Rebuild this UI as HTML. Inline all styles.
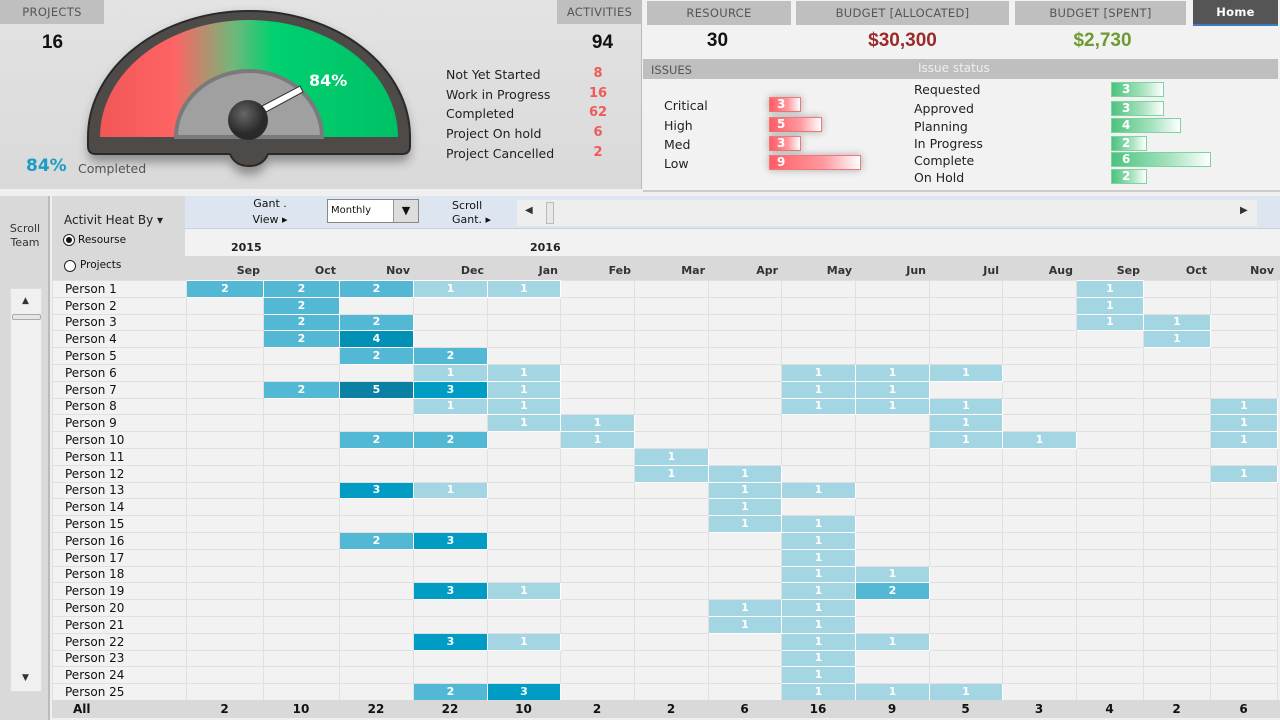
<!DOCTYPE html>
<html><head><meta charset="utf-8">
<style>
*{box-sizing:border-box;margin:0;padding:0}
body{width:1280px;height:720px;overflow:hidden;background:#f0f0f0;font-family:"DejaVu Sans","Liberation Sans",sans-serif;position:relative;color:#111}
.ab{position:absolute}
.hd{position:absolute;background:#bfbfbf;color:#555;font-size:11.5px;text-align:center;line-height:24px;letter-spacing:.3px}
.big{position:absolute;font-weight:bold;font-size:19px;font-family:"Liberation Sans",sans-serif;text-align:center}
.lab{position:absolute;font-size:12.5px;color:#222}
.num{position:absolute;font-size:13px;color:#f05a5a;font-weight:bold;text-align:center;width:30px}
.rb{position:absolute;height:15px;border:1px solid #f07878;background:linear-gradient(90deg,#ff5c66,#ff9aa0 60%,#fff);color:#fff;font-weight:bold;font-size:12px;padding-left:7px;line-height:13px;box-shadow:0 0 8px rgba(0,0,0,.3)}
.gb{position:absolute;height:15px;border:1px solid #7ed3a0;background:linear-gradient(90deg,#4cc37f,#a8e3c0 60%,#fff);color:#fff;font-weight:bold;font-size:12px;padding-left:10px;line-height:13px}
table{border-collapse:collapse;table-layout:fixed;position:absolute;left:52px;top:280px}
td{height:16.8px;border:1px solid #e0e0e0;background:#f2f2f2;font-size:11px;text-align:center;color:#fff;font-weight:bold;padding:0;line-height:14px}
td.n{text-align:left;padding-left:12px;color:#111;font-weight:normal;font-size:12px;background:#f2f2f2}
td.a{background:#a3d5e2;border-color:#fff}
td.b{background:#52b8d3;border-color:#fff}
td.c{background:#009cc4;border-color:#fff}
td.d{background:#0090b5;border-color:#fff}
td.e{background:#0a80a5;border-color:#fff}
.mo{position:absolute;top:264px;font-size:11px;font-weight:bold;color:#333;text-align:right}
.tot{position:absolute;top:702px;font-size:12px;font-weight:bold;color:#111;text-align:center}
</style></head><body>

<!-- top left panel -->
<div class="ab" style="left:0;top:0;width:642px;height:189px;background:linear-gradient(#e3e3e3,#d9d9d9);border-right:1px solid #bbb"></div>
<div class="hd" style="left:0;top:0;width:104px">PROJECTS</div>
<div class="hd" style="left:557px;top:0;width:85px">ACTIVITIES</div>
<div class="big" style="left:30px;top:32px;width:45px">16</div>
<div class="big" style="left:580px;top:32px;width:45px">94</div>
<div class="ab" style="left:26px;top:156px;font-size:17px;font-weight:bold;color:#1a9cc4">84%</div>
<div class="ab" style="left:78px;top:161px;font-size:12.5px;color:#555">Completed</div>
<svg class="ab" style="left:0;top:0" width="440" height="190">
<defs>
<linearGradient id="gg" x1="0" x2="1" y1="0" y2="0">
<stop offset="0" stop-color="#f25757"/><stop offset=".25" stop-color="#ff6464"/><stop offset=".45" stop-color="#6fb87a"/><stop offset=".58" stop-color="#00d170"/><stop offset="1" stop-color="#00c066"/></linearGradient>
<radialGradient id="hub" cx=".4" cy=".35"><stop offset="0" stop-color="#666"/><stop offset="1" stop-color="#2a2a2a"/></radialGradient>
<filter id="sh"><feGaussianBlur stdDeviation="5"/></filter>
</defs>
<path d="M88,145 A161,130 0 0 1 410,145 L410,152 Q410,162 400,162 L268,162 Q262,175 249,175 Q236,175 230,162 L98,162 Q88,162 88,152 Z" fill="#333" filter="url(#sh)" opacity=".45"/>
<path d="M88,137 A161,126 0 0 1 410,137 L410,146 Q410,154 402,154 L268,154 Q263,166 249,166 Q235,166 230,154 L96,154 Q88,154 88,146 Z" fill="#4e4a48" stroke="#2c2a29" stroke-width="2"/>
<path d="M100,137 A149,117 0 0 1 398,137 Z" fill="url(#gg)"/>
<path d="M176,137 A73,66 0 0 1 322,137 Z" fill="#a0a0a0" stroke="#7a7a7a" stroke-width="4"/>
<polygon points="262,106 300,86 303,92 266,112" fill="#fff" stroke="#333" stroke-width="1"/>
<circle cx="248" cy="120" r="20" fill="url(#hub)"/>
<text x="309" y="86" font-family="DejaVu Sans,sans-serif" font-size="16" font-weight="bold" fill="#fff">84%</text>
</svg>
<div class="lab" style="left:446px;top:67px">Not Yet Started</div>
<div class="lab" style="left:446px;top:87px">Work in Progress</div>
<div class="lab" style="left:446px;top:106px">Completed</div>
<div class="lab" style="left:446px;top:126px">Project On hold</div>
<div class="lab" style="left:446px;top:146px">Project Cancelled</div>
<div class="num" style="left:583px;top:66px">8</div>
<div class="num" style="left:583px;top:86px">16</div>
<div class="num" style="left:583px;top:105px">62</div>
<div class="num" style="left:583px;top:125px">6</div>
<div class="num" style="left:583px;top:145px">2</div>

<!-- top right panel -->
<div class="ab" style="left:643px;top:0;width:637px;height:192px;background:#f2f2f2;border-bottom:2px solid #ccc"></div>
<div class="hd" style="left:647px;top:1px;width:144px">RESOURCE</div>
<div class="hd" style="left:796px;top:1px;width:213px">BUDGET [ALLOCATED]</div>
<div class="hd" style="left:1015px;top:1px;width:171px">BUDGET [SPENT]</div>
<div class="hd" style="left:1193px;top:0;width:85px;background:#555;color:#fff;font-weight:bold;border-bottom:2px solid #3d7ac0">Home</div>
<div class="big" style="left:690px;top:30px;width:55px">30</div>
<div class="big" style="left:850px;top:30px;width:105px;color:#9b2a2a">$30,300</div>
<div class="big" style="left:1055px;top:30px;width:95px;color:#6f9a32">$2,730</div>
<div class="ab" style="left:643px;top:59px;width:635px;height:20px;background:#bfbfbf"></div>
<div class="ab" style="left:651px;top:63px;font-size:11.5px;color:#555">ISSUES</div>
<div class="ab" style="left:918px;top:61px;font-size:12px;color:#eee">Issue status</div>
<div class="lab" style="left:664px;top:98px">Critical</div>
<div class="lab" style="left:664px;top:118px">High</div>
<div class="lab" style="left:664px;top:137px">Med</div>
<div class="lab" style="left:664px;top:156px">Low</div>
<div class="rb" style="left:769px;top:97px;width:32px">3</div>
<div class="rb" style="left:769px;top:117px;width:53px">5</div>
<div class="rb" style="left:769px;top:136px;width:32px">3</div>
<div class="rb" style="left:769px;top:155px;width:92px">9</div>
<div class="lab" style="left:914px;top:82px">Requested</div>
<div class="lab" style="left:914px;top:101px">Approved</div>
<div class="lab" style="left:914px;top:119px">Planning</div>
<div class="lab" style="left:914px;top:136px">In Progress</div>
<div class="lab" style="left:914px;top:153px">Complete</div>
<div class="lab" style="left:914px;top:170px">On Hold</div>
<div class="gb" style="left:1111px;top:82px;width:53px">3</div>
<div class="gb" style="left:1111px;top:101px;width:53px">3</div>
<div class="gb" style="left:1111px;top:118px;width:70px">4</div>
<div class="gb" style="left:1111px;top:136px;width:36px">2</div>
<div class="gb" style="left:1111px;top:152px;width:100px">6</div>
<div class="gb" style="left:1111px;top:169px;width:36px">2</div>

<!-- bottom -->
<div class="ab" style="left:0;top:196px;width:50px;height:524px;background:#d9d9d9;border-right:2px solid #bbb"></div>
<div class="ab" style="left:0;top:222px;width:50px;text-align:center;font-size:11px;color:#333;line-height:14px">Scroll<br>Team</div>
<div class="ab" style="left:10px;top:288px;width:32px;height:404px;background:#f0f0f0;border:1px solid #ddd"></div>
<div class="ab" style="left:22px;top:296px;font-size:9px;color:#333">▲</div>
<div class="ab" style="left:12px;top:314px;width:29px;height:6px;background:#e6e6e6;border:1px solid #aaa;border-radius:2px"></div>
<div class="ab" style="left:22px;top:673px;font-size:9px;color:#333">▼</div>
<div class="ab" style="left:52px;top:196px;width:133px;height:84px;background:#d9d9d9"></div>
<div class="ab" style="left:64px;top:213px;font-size:12px;color:#222">Activit Heat By ▾</div>
<div class="ab" style="left:63px;top:234px;width:12px;height:12px;border:1px solid #222;border-radius:50%;background:#fff"></div>
<div class="ab" style="left:66px;top:237px;width:6px;height:6px;border-radius:50%;background:#111"></div>
<div class="ab" style="left:78px;top:234px;font-size:10.5px">Resourse</div>
<div class="ab" style="left:64px;top:260px;width:12px;height:12px;border:1px solid #222;border-radius:50%;background:#fff"></div>
<div class="ab" style="left:80px;top:259px;font-size:10.5px">Projects</div>

<div class="ab" style="left:185px;top:196px;width:1095px;height:33px;background:#dde6f0;border-bottom:1px solid #c8d3e0"></div>
<div class="ab" style="left:250px;top:196px;font-size:11px;line-height:16px;text-align:center;width:40px">Gant .<br>View ▸</div>
<div class="ab" style="left:327px;top:199px;width:92px;height:24px;background:#fff;border:1px solid #888"></div>
<div class="ab" style="left:331px;top:205px;font-size:10px">Monthly</div>
<div class="ab" style="left:393px;top:200px;width:25px;height:22px;background:#ddd;border-left:1px solid #999;font-size:11px;text-align:center;line-height:22px">▼</div>
<div class="ab" style="left:452px;top:199px;font-size:11px;line-height:14px;text-align:left">Scroll<br>Gant. ▸</div>
<div class="ab" style="left:517px;top:200px;width:740px;height:26px;background:#eee"></div>
<div class="ab" style="left:525px;top:205px;font-size:10px;color:#333">◀</div>
<div class="ab" style="left:546px;top:202px;width:8px;height:22px;background:#e8e8e8;border:1px solid #bbb"></div>
<div class="ab" style="left:1240px;top:205px;font-size:10px;color:#333">▶</div>

<div class="ab" style="left:185px;top:230px;width:1095px;height:26px;background:#f2f2f2"></div>
<div class="ab" style="left:231px;top:241px;font-size:11px;font-weight:bold;color:#222">2015</div>
<div class="ab" style="left:530px;top:241px;font-size:11px;font-weight:bold;color:#222">2016</div>
<div class="ab" style="left:185px;top:256px;width:1095px;height:24px;background:#d9d9d9"></div>
<div class="mo" style="left:186px;width:74px">Sep</div>
<div class="mo" style="left:263px;width:73px">Oct</div>
<div class="mo" style="left:339px;width:71px">Nov</div>
<div class="mo" style="left:413px;width:71px">Dec</div>
<div class="mo" style="left:487px;width:71px">Jan</div>
<div class="mo" style="left:560px;width:71px">Feb</div>
<div class="mo" style="left:634px;width:71px">Mar</div>
<div class="mo" style="left:708px;width:70px">Apr</div>
<div class="mo" style="left:781px;width:71px">May</div>
<div class="mo" style="left:855px;width:71px">Jun</div>
<div class="mo" style="left:929px;width:70px">Jul</div>
<div class="mo" style="left:1002px;width:71px">Aug</div>
<div class="mo" style="left:1076px;width:64px">Sep</div>
<div class="mo" style="left:1143px;width:64px">Oct</div>
<div class="mo" style="left:1210px;width:64px">Nov</div>

<table>
<colgroup><col style="width:134px"><col style="width:77px"><col style="width:76px"><col style="width:74px"><col style="width:74px"><col style="width:73px"><col style="width:74px"><col style="width:74px"><col style="width:73px"><col style="width:74px"><col style="width:74px"><col style="width:73px"><col style="width:74px"><col style="width:67px"><col style="width:67px"><col style="width:67px"></colgroup>
<tr><td class="n">Person 1</td><td class="b">2</td><td class="b">2</td><td class="b">2</td><td class="a">1</td><td class="a">1</td><td></td><td></td><td></td><td></td><td></td><td></td><td></td><td class="a">1</td><td></td><td></td></tr>
<tr><td class="n">Person 2</td><td></td><td class="b">2</td><td></td><td></td><td></td><td></td><td></td><td></td><td></td><td></td><td></td><td></td><td class="a">1</td><td></td><td></td></tr>
<tr><td class="n">Person 3</td><td></td><td class="b">2</td><td class="b">2</td><td></td><td></td><td></td><td></td><td></td><td></td><td></td><td></td><td></td><td class="a">1</td><td class="a">1</td><td></td></tr>
<tr><td class="n">Person 4</td><td></td><td class="b">2</td><td class="d">4</td><td></td><td></td><td></td><td></td><td></td><td></td><td></td><td></td><td></td><td></td><td class="a">1</td><td></td></tr>
<tr><td class="n">Person 5</td><td></td><td></td><td class="b">2</td><td class="b">2</td><td></td><td></td><td></td><td></td><td></td><td></td><td></td><td></td><td></td><td></td><td></td></tr>
<tr><td class="n">Person 6</td><td></td><td></td><td></td><td class="a">1</td><td class="a">1</td><td></td><td></td><td></td><td class="a">1</td><td class="a">1</td><td class="a">1</td><td></td><td></td><td></td><td></td></tr>
<tr><td class="n">Person 7</td><td></td><td class="b">2</td><td class="e">5</td><td class="c">3</td><td class="a">1</td><td></td><td></td><td></td><td class="a">1</td><td class="a">1</td><td></td><td></td><td></td><td></td><td></td></tr>
<tr><td class="n">Person 8</td><td></td><td></td><td></td><td class="a">1</td><td class="a">1</td><td></td><td></td><td></td><td class="a">1</td><td class="a">1</td><td class="a">1</td><td></td><td></td><td></td><td class="a">1</td></tr>
<tr><td class="n">Person 9</td><td></td><td></td><td></td><td></td><td class="a">1</td><td class="a">1</td><td></td><td></td><td></td><td></td><td class="a">1</td><td></td><td></td><td></td><td class="a">1</td></tr>
<tr><td class="n">Person 10</td><td></td><td></td><td class="b">2</td><td class="b">2</td><td></td><td class="a">1</td><td></td><td></td><td></td><td></td><td class="a">1</td><td class="a">1</td><td></td><td></td><td class="a">1</td></tr>
<tr><td class="n">Person 11</td><td></td><td></td><td></td><td></td><td></td><td></td><td class="a">1</td><td></td><td></td><td></td><td></td><td></td><td></td><td></td><td></td></tr>
<tr><td class="n">Person 12</td><td></td><td></td><td></td><td></td><td></td><td></td><td class="a">1</td><td class="a">1</td><td></td><td></td><td></td><td></td><td></td><td></td><td class="a">1</td></tr>
<tr><td class="n">Person 13</td><td></td><td></td><td class="c">3</td><td class="a">1</td><td></td><td></td><td></td><td class="a">1</td><td class="a">1</td><td></td><td></td><td></td><td></td><td></td><td></td></tr>
<tr><td class="n">Person 14</td><td></td><td></td><td></td><td></td><td></td><td></td><td></td><td class="a">1</td><td></td><td></td><td></td><td></td><td></td><td></td><td></td></tr>
<tr><td class="n">Person 15</td><td></td><td></td><td></td><td></td><td></td><td></td><td></td><td class="a">1</td><td class="a">1</td><td></td><td></td><td></td><td></td><td></td><td></td></tr>
<tr><td class="n">Person 16</td><td></td><td></td><td class="b">2</td><td class="c">3</td><td></td><td></td><td></td><td></td><td class="a">1</td><td></td><td></td><td></td><td></td><td></td><td></td></tr>
<tr><td class="n">Person 17</td><td></td><td></td><td></td><td></td><td></td><td></td><td></td><td></td><td class="a">1</td><td></td><td></td><td></td><td></td><td></td><td></td></tr>
<tr><td class="n">Person 18</td><td></td><td></td><td></td><td></td><td></td><td></td><td></td><td></td><td class="a">1</td><td class="a">1</td><td></td><td></td><td></td><td></td><td></td></tr>
<tr><td class="n">Person 19</td><td></td><td></td><td></td><td class="c">3</td><td class="a">1</td><td></td><td></td><td></td><td class="a">1</td><td class="b">2</td><td></td><td></td><td></td><td></td><td></td></tr>
<tr><td class="n">Person 20</td><td></td><td></td><td></td><td></td><td></td><td></td><td></td><td class="a">1</td><td class="a">1</td><td></td><td></td><td></td><td></td><td></td><td></td></tr>
<tr><td class="n">Person 21</td><td></td><td></td><td></td><td></td><td></td><td></td><td></td><td class="a">1</td><td class="a">1</td><td></td><td></td><td></td><td></td><td></td><td></td></tr>
<tr><td class="n">Person 22</td><td></td><td></td><td></td><td class="c">3</td><td class="a">1</td><td></td><td></td><td></td><td class="a">1</td><td class="a">1</td><td></td><td></td><td></td><td></td><td></td></tr>
<tr><td class="n">Person 23</td><td></td><td></td><td></td><td></td><td></td><td></td><td></td><td></td><td class="a">1</td><td></td><td></td><td></td><td></td><td></td><td></td></tr>
<tr><td class="n">Person 24</td><td></td><td></td><td></td><td></td><td></td><td></td><td></td><td></td><td class="a">1</td><td></td><td></td><td></td><td></td><td></td><td></td></tr>
<tr><td class="n">Person 25</td><td></td><td></td><td></td><td class="b">2</td><td class="c">3</td><td></td><td></td><td></td><td class="a">1</td><td class="a">1</td><td class="a">1</td><td></td><td></td><td></td><td></td></tr>
</table>

<div class="ab" style="left:52px;top:700px;width:1228px;height:18px;background:#d9d9d9"></div>
<div class="ab" style="left:73px;top:702px;font-size:12px;font-weight:bold">All</div>
<div class="tot" style="left:186px;width:77px">2</div>
<div class="tot" style="left:263px;width:76px">10</div>
<div class="tot" style="left:339px;width:74px">22</div>
<div class="tot" style="left:413px;width:74px">22</div>
<div class="tot" style="left:487px;width:73px">10</div>
<div class="tot" style="left:560px;width:74px">2</div>
<div class="tot" style="left:634px;width:74px">2</div>
<div class="tot" style="left:708px;width:73px">6</div>
<div class="tot" style="left:781px;width:74px">16</div>
<div class="tot" style="left:855px;width:74px">9</div>
<div class="tot" style="left:929px;width:73px">5</div>
<div class="tot" style="left:1002px;width:74px">3</div>
<div class="tot" style="left:1076px;width:67px">4</div>
<div class="tot" style="left:1143px;width:67px">2</div>
<div class="tot" style="left:1210px;width:67px">6</div>
</body></html>
